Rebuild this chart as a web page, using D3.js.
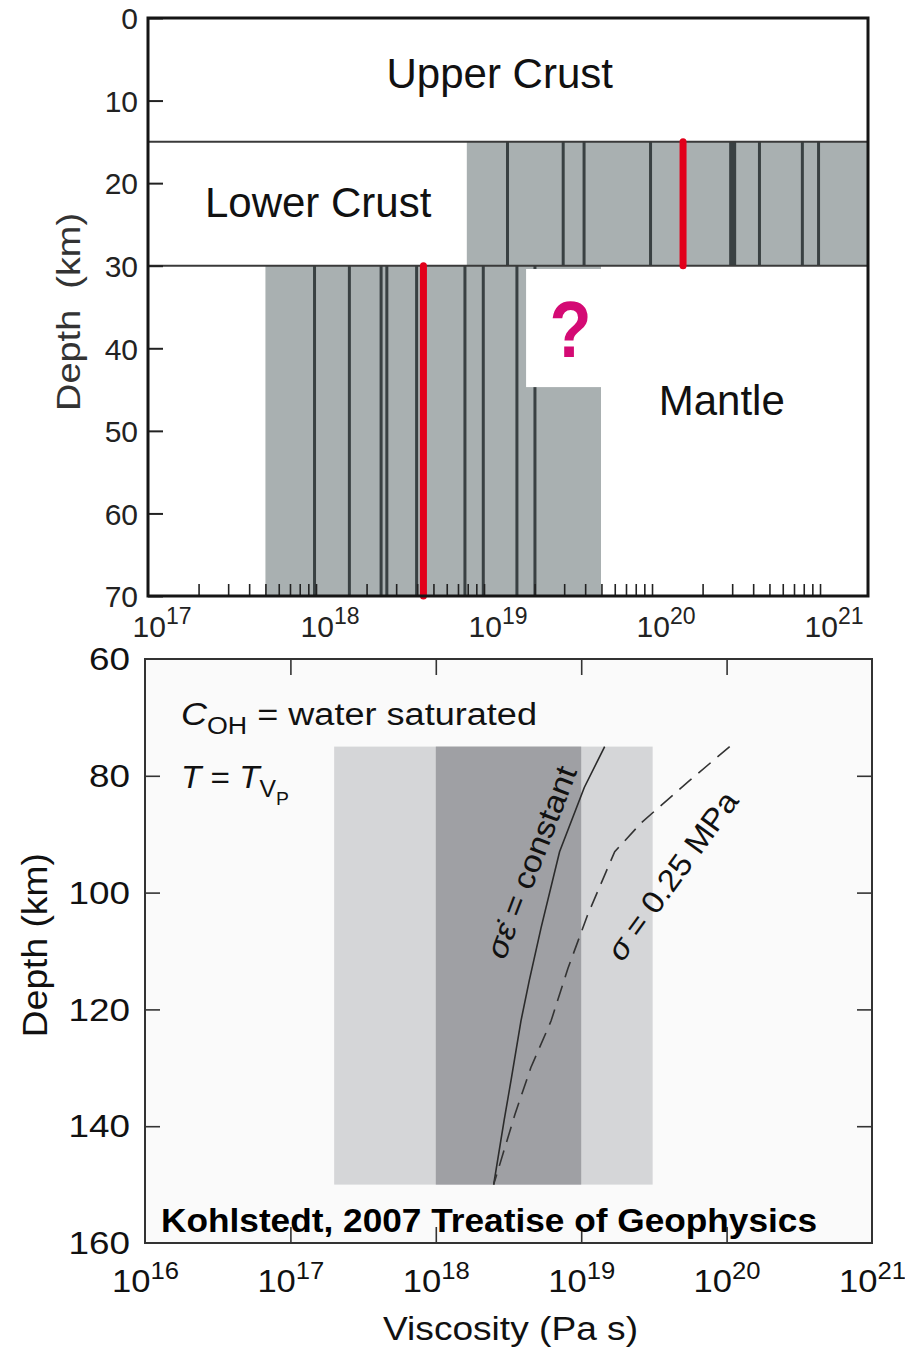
<!DOCTYPE html>
<html>
<head>
<meta charset="utf-8">
<script src="https://cdn.jsdelivr.net/npm/d3@7"></script>
<style>
  body { margin: 0; background: #fff; }
  svg { display: block; font-family: "Liberation Sans", Arial, sans-serif; }
</style>
</head>
<body>
<svg id="chart" width="905" height="1350"></svg>
<script>
"use strict";

// ---- top panel data: viscosity (Pa s) vs depth (km)
var topDepthTicks = [0, 10, 20, 30, 40, 50, 60, 70];
var topDecades = [17, 18, 19, 20, 21];
var layerBoundaries = [15, 30];
var lowerCrustBand = [7.9e18, 1.93e21];      // 15-30 km
var mantleBand = [5.0e17, 4.97e19];          // 30-70 km
var unknownBox = [1.78e19, 4.97e19];         // white box with "?"
var unknownDepth = [30.4, 44.7];
var lowerCrustEtas = [1.38e19, 2.96e19, 3.94e19, 9.8e19, 4.36e20, 7.85e20, 9.8e20];
var lowerCrustThick = [3.02e20];
var lowerCrustRed = [1.53e20];
var mantleEtas = [9.8e17, 1.58e18, 2.44e18, 2.64e18, 3.97e18, 7.7e18, 9.9e18, 1.57e19, 2.01e19];
var mantleRed = [4.36e18];

// ---- bottom panel data
var botDepthTicks = [60, 80, 100, 120, 140, 160];
var botDecades = [16, 17, 18, 19, 20, 21];
var lightBand = [2.0e17, 3.1e19];
var darkBand = [1.0e18, 1.0e19];
var bandDepth = [75, 150];
var constRateDepth = [75, 82, 93, 106, 115, 122, 132, 139, 150];
var constRateEta = [1.45e19, 1.05e19, 7.1e18, 5.3e18, 4.4e18, 3.85e18, 3.3e18, 2.95e18, 2.5e18];
var constStressDepth = [75, 81, 88, 93, 97, 104, 113, 122, 130, 138, 150];
var constStressEta = [1.05e20, 5.45e19, 2.6e19, 1.7e19, 1.45e19, 1.1e19, 8.1e18, 6.2e18, 4.5e18, 3.5e18, 2.5e18];

var svg = d3.select("#chart");

// =================== TOP PANEL ===================
var xTop = d3.scaleLog().domain([1e17, 1.93e21]).range([148, 868]);
var yTop = d3.scaleLinear().domain([0, 70]).range([18, 596]);
var topG = svg.append("g");

// gray bands
topG.append("rect")
    .attr("x", xTop(lowerCrustBand[0])).attr("y", yTop(15))
    .attr("width", xTop(lowerCrustBand[1]) - xTop(lowerCrustBand[0]))
    .attr("height", yTop(30) - yTop(15))
    .attr("fill", "#a9b0b1");
topG.append("rect")
    .attr("x", xTop(mantleBand[0])).attr("y", yTop(30))
    .attr("width", xTop(mantleBand[1]) - xTop(mantleBand[0]))
    .attr("height", yTop(70) - yTop(30))
    .attr("fill", "#a9b0b1");

function vlines(g, vals, d0, d1, color, w, cap) {
    g.selectAll(null).data(vals).enter().append("line")
        .attr("x1", function(d){ return xTop(d); })
        .attr("x2", function(d){ return xTop(d); })
        .attr("y1", yTop(d0)).attr("y2", yTop(d1))
        .attr("stroke", color).attr("stroke-width", w)
        .attr("stroke-linecap", cap || "butt");
}
vlines(topG, lowerCrustEtas, 15, 30, "#394042", 3);
vlines(topG, lowerCrustThick, 15, 30, "#394042", 7);
vlines(topG, mantleEtas, 30, 70, "#394042", 3);

// layer boundaries
topG.selectAll(null).data(layerBoundaries).enter().append("line")
    .attr("x1", xTop(1e17)).attr("x2", xTop(1.93e21))
    .attr("y1", function(d){ return yTop(d); })
    .attr("y2", function(d){ return yTop(d); })
    .attr("stroke", "#3a3a3a").attr("stroke-width", 2);

vlines(topG, lowerCrustRed, 15, 30, "#e2001a", 7, "round");
vlines(topG, mantleRed, 30, 70, "#e2001a", 7, "round");

// white box with question mark
topG.append("rect")
    .attr("x", xTop(unknownBox[0])).attr("y", yTop(unknownDepth[0]))
    .attr("width", xTop(unknownBox[1]) - xTop(unknownBox[0]))
    .attr("height", yTop(unknownDepth[1]) - yTop(unknownDepth[0]))
    .attr("fill", "#fff");
topG.append("text")
    .attr("x", (xTop(unknownBox[0]) + xTop(unknownBox[1])) / 2 + 7)
    .attr("y", yTop(41.1))
    .attr("text-anchor", "middle")
    .attr("font-size", 80).attr("font-weight", "bold")
    .attr("textLength", 42).attr("lengthAdjust", "spacingAndGlyphs")
    .attr("fill", "#d40a74")
    .text("?");

// minor ticks along bottom
var topMinor = [];
[17, 18, 19, 20].forEach(function(e){
    for (var k = 1; k <= 9; k++) {
        if (!(e === 17 && k === 1)) topMinor.push(k * Math.pow(10, e));
    }
});
topMinor.push(1e21);
var bAx = topG.append("g")
    .attr("transform", "translate(0," + yTop(70) + ")")
    .call(d3.axisBottom(xTop).tickValues(topMinor).tickSize(-12).tickFormat(""));
bAx.select(".domain").remove();
bAx.selectAll("line").attr("stroke", "#222").attr("stroke-width", 1.6);

var lAx = topG.append("g")
    .attr("transform", "translate(" + xTop(1e17) + ",0)")
    .call(d3.axisLeft(yTop).tickValues(topDepthTicks).tickSize(-15).tickPadding(10));
lAx.select(".domain").remove();
lAx.selectAll("line").attr("stroke", "#222").attr("stroke-width", 2);
lAx.selectAll("text").attr("font-size", 30).attr("fill", "#222")
    .attr("font-family", "Liberation Sans, Arial, sans-serif")
    .attr("dy", "0.36em");

// frame
topG.append("rect")
    .attr("x", xTop(1e17)).attr("y", yTop(0))
    .attr("width", xTop(1.93e21) - xTop(1e17)).attr("height", yTop(70) - yTop(0))
    .attr("fill", "none").attr("stroke", "#151515").attr("stroke-width", 3);

// x labels
var tl = topG.selectAll(null).data(topDecades).enter().append("text")
    .attr("x", function(d){ return xTop(Math.pow(10, d)) + 14; })
    .attr("y", 637)
    .attr("text-anchor", "middle")
    .attr("fill", "#222");
tl.append("tspan").attr("font-size", 30).text("10");
tl.append("tspan").attr("font-size", 23).attr("dy", -13).text(function(d){ return d; });

// layer names
var layerFont = 42;
topG.append("text").attr("x", xTop(1.24e19)).attr("y", yTop(8.5))
    .attr("text-anchor", "middle").attr("font-size", layerFont).attr("fill", "#111").text("Upper Crust");
topG.append("text").attr("x", xTop(1.03e18)).attr("y", yTop(24.1))
    .attr("text-anchor", "middle").attr("font-size", layerFont).attr("fill", "#111").text("Lower Crust");
topG.append("text").attr("x", xTop(2.6e20)).attr("y", yTop(48.1))
    .attr("text-anchor", "middle").attr("font-size", layerFont).attr("fill", "#111").text("Mantle");

topG.append("text")
    .attr("transform", "translate(80," + yTop(35.6) + ") rotate(-90)")
    .attr("text-anchor", "middle").attr("font-size", 33).attr("fill", "#333")
    .attr("textLength", 198).attr("lengthAdjust", "spacingAndGlyphs")
    .style("white-space", "pre")
    .text("Depth  (km)");

// =================== BOTTOM PANEL ===================
var xBot = d3.scaleLog().domain([1e16, 1e21]).range([145, 872]);
var yBot = d3.scaleLinear().domain([60, 160]).range([659, 1243]);
var botG = svg.append("g");

botG.append("rect")
    .attr("x", xBot(1e16)).attr("y", yBot(60))
    .attr("width", xBot(1e21) - xBot(1e16)).attr("height", yBot(160) - yBot(60))
    .attr("fill", "#fafafa");

botG.append("rect")
    .attr("x", xBot(lightBand[0])).attr("y", yBot(bandDepth[0]))
    .attr("width", xBot(lightBand[1]) - xBot(lightBand[0]))
    .attr("height", yBot(bandDepth[1]) - yBot(bandDepth[0]))
    .attr("fill", "#d5d6d8");
botG.append("rect")
    .attr("x", xBot(darkBand[0])).attr("y", yBot(bandDepth[0]))
    .attr("width", xBot(darkBand[1]) - xBot(darkBand[0]))
    .attr("height", yBot(bandDepth[1]) - yBot(bandDepth[0]))
    .attr("fill", "#9fa0a4");

var lineGen = d3.line()
    .x(function(d){ return xBot(d[0]); })
    .y(function(d){ return yBot(d[1]); });

botG.append("path")
    .datum(d3.zip(constRateEta, constRateDepth))
    .attr("d", lineGen)
    .attr("fill", "none").attr("stroke", "#2b2b2b").attr("stroke-width", 1.6);
botG.append("path")
    .datum(d3.zip(constStressEta, constStressDepth))
    .attr("d", lineGen)
    .attr("fill", "none").attr("stroke", "#333").attr("stroke-width", 1.6)
    .attr("stroke-dasharray", "16,9");

// ticks
var innerDecades = [1e17, 1e18, 1e19, 1e20];
var innerDepths = [80, 100, 120, 140];
function cleanAxis(a) {
    a.select(".domain").remove();
    a.selectAll("line").attr("stroke", "#333").attr("stroke-width", 1.6);
}
cleanAxis(botG.append("g").attr("transform", "translate(0," + yBot(60) + ")")
    .call(d3.axisTop(xBot).tickValues(innerDecades).tickSize(-16).tickFormat("")));
cleanAxis(botG.append("g").attr("transform", "translate(0," + yBot(160) + ")")
    .call(d3.axisBottom(xBot).tickValues(innerDecades).tickSize(-16).tickFormat("")));
cleanAxis(botG.append("g").attr("transform", "translate(" + xBot(1e16) + ",0)")
    .call(d3.axisLeft(yBot).tickValues(innerDepths).tickSize(-15).tickFormat("")));
cleanAxis(botG.append("g").attr("transform", "translate(" + xBot(1e21) + ",0)")
    .call(d3.axisRight(yBot).tickValues(innerDepths).tickSize(-15).tickFormat("")));

botG.append("rect")
    .attr("x", xBot(1e16)).attr("y", yBot(60))
    .attr("width", xBot(1e21) - xBot(1e16)).attr("height", yBot(160) - yBot(60))
    .attr("fill", "none").attr("stroke", "#333").attr("stroke-width", 2);

// y labels (the lower figure is a little stretched sideways)
botG.selectAll(null).data(botDepthTicks).enter().append("text")
    .attr("x", 130)
    .attr("y", function(d){ return yBot(d); })
    .attr("dy", "0.36em")
    .attr("text-anchor", "end")
    .attr("font-size", 31).attr("fill", "#111")
    .attr("textLength", function(d){ return String(d).length * 20.5; })
    .attr("lengthAdjust", "spacingAndGlyphs")
    .text(function(d){ return d; });

// x labels
var bl = botG.selectAll(null).data(botDecades).enter().append("text")
    .attr("x", function(d){ return xBot(Math.pow(10, d)) - 33; })
    .attr("y", 1292)
    .attr("fill", "#111")
    .attr("textLength", 67).attr("lengthAdjust", "spacingAndGlyphs");
bl.append("tspan").attr("font-size", 31).text("10");
bl.append("tspan").attr("font-size", 23).attr("dy", -13).text(function(d){ return d; });

botG.append("text")
    .attr("x", 383).attr("y", 1340)
    .attr("font-size", 33).attr("fill", "#111")
    .attr("textLength", 255).attr("lengthAdjust", "spacingAndGlyphs")
    .text("Viscosity (Pa s)");
botG.append("text")
    .attr("transform", "translate(47," + yBot(109) + ") rotate(-90)")
    .attr("text-anchor", "middle").attr("font-size", 35).attr("fill", "#111")
    .attr("textLength", 184).attr("lengthAdjust", "spacingAndGlyphs")
    .text("Depth (km)");

// annotations
var c1 = botG.append("text").attr("x", 181).attr("y", 725).attr("font-size", 31).attr("fill", "#111")
    .attr("textLength", 356).attr("lengthAdjust", "spacingAndGlyphs");
c1.append("tspan").attr("font-style", "italic").text("C");
c1.append("tspan").attr("font-size", 23).attr("dy", 9).text("OH");
c1.append("tspan").attr("dy", -9).text(" = water saturated");

var c2 = botG.append("text").attr("x", 181).attr("y", 788).attr("font-size", 31).attr("fill", "#111")
    .attr("textLength", 108).attr("lengthAdjust", "spacingAndGlyphs");
c2.append("tspan").attr("font-style", "italic").text("T");
c2.append("tspan").text(" = ");
c2.append("tspan").attr("font-style", "italic").text("T");
c2.append("tspan").attr("font-size", 23).attr("dy", 9).text("V");
c2.append("tspan").attr("font-size", 18).attr("dy", 8).text("P");

var r1 = botG.append("text")
    .attr("transform", "translate(541,866) rotate(-69)")
    .attr("text-anchor", "middle").attr("font-size", 31).attr("fill", "#111")
    .attr("textLength", 203).attr("lengthAdjust", "spacingAndGlyphs");
r1.append("tspan").attr("font-style", "italic").text("\u03c3\u03b5\u0307");
r1.append("tspan").text(" = constant");

var r2 = botG.append("text")
    .attr("transform", "translate(681,882) rotate(-54)")
    .attr("text-anchor", "middle").attr("font-size", 31).attr("fill", "#111")
    .attr("textLength", 200).attr("lengthAdjust", "spacingAndGlyphs");
r2.append("tspan").attr("font-style", "italic").text("\u03c3");
r2.append("tspan").text(" = 0.25 MPa");

botG.append("text")
    .attr("x", 161).attr("y", 1232)
    .attr("font-size", 34).attr("font-weight", "bold").attr("fill", "#000")
    .attr("textLength", 656).attr("lengthAdjust", "spacingAndGlyphs")
    .text("Kohlstedt, 2007 Treatise of Geophysics");
</script>
</body>
</html>
